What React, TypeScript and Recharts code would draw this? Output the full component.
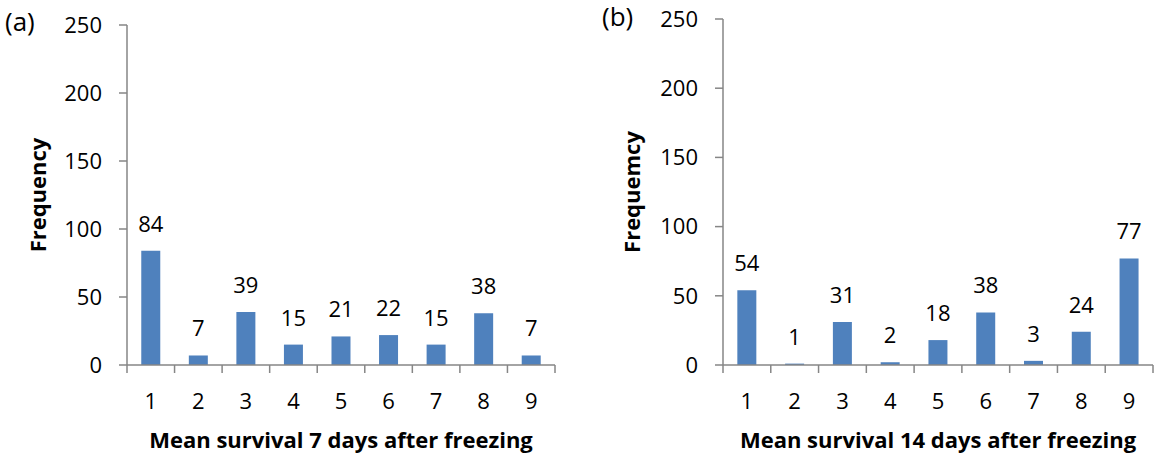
import { Bar, BarChart, Label, LabelList, XAxis, YAxis } from "recharts";

// survival score classes on the x axis
const survivalClasses = ["1", "2", "3", "4", "5", "6", "7", "8", "9"];
// number of plants per class, 7 and 14 days after freezing
const freqDay7 = [84, 7, 39, 15, 21, 22, 15, 38, 7];
const freqDay14 = [54, 1, 31, 2, 18, 38, 3, 24, 77];
const freqTicks = [0, 50, 100, 150, 200, 250];

const FONT = "'Open Sans', 'Noto Sans', sans-serif";
const AXIS = "#868686";
const BAR = "#4F81BD";
const TICK_LEN = 8;
const X_TICK_GAP = 20;

// Excel-style category tick: label in the middle, tick marks on the band edges
function ClassTick(props: any) {
  const { x, y, payload, index, visibleTicksCount } = props;
  const half = payload?.offset ?? 23.8;
  const axisY = y - TICK_LEN - X_TICK_GAP;
  const left = x - half;
  const right = x + half;
  return (
    <g>
      <line x1={left} x2={left} y1={axisY} y2={axisY + TICK_LEN} stroke={AXIS} strokeWidth={1.5} />
      {index === visibleTicksCount - 1 && (
        <line x1={right} x2={right} y1={axisY} y2={axisY + TICK_LEN} stroke={AXIS} strokeWidth={1.5} />
      )}
      <text x={x} y={y} dy="0.71em" textAnchor="middle" fill="#000" fontSize={22}>
        {payload.value}
      </text>
    </g>
  );
}

function Panel({
  values,
  title,
  yTitle,
  yAxisWidth,
  yTitleX,
  top,
  right,
}: {
  values: number[];
  title: string;
  yTitle: string;
  yAxisWidth: number;
  yTitleX: number;
  top: number;
  right: number;
}) {
  const rows = survivalClasses.map((c, i) => ({ cls: c, n: values[i] }));
  return (
    <BarChart
      width={577}
      height={454}
      data={rows}
      margin={{ top, right, bottom: 0, left: 0 }}
      barCategoryGap="30%"
    >
      <XAxis
        dataKey="cls"
        height={89}
        interval={0}
        axisLine={{ stroke: AXIS, strokeWidth: 1.5 }}
        tickLine={false}
        tickSize={TICK_LEN}
        tickMargin={X_TICK_GAP}
        tick={<ClassTick />}
      >
        <Label
          value={title}
          position="insideBottom"
          offset={6}
          style={{ fontSize: 22, fontWeight: 700, fill: "#000" }}
        />
      </XAxis>
      <YAxis
        width={yAxisWidth}
        domain={[0, 250]}
        ticks={freqTicks}
        interval={0}
        axisLine={{ stroke: AXIS, strokeWidth: 1.5 }}
        tickLine={{ stroke: AXIS, strokeWidth: 1.5 }}
        tickSize={TICK_LEN}
        tickMargin={17}
        tick={{ fontSize: 22, fill: "#000" }}
      >
        <Label
          content={({ viewBox }: any) => {
            const cy = viewBox.y + viewBox.height / 2;
            return (
              <text
                x={yTitleX}
                y={cy}
                textAnchor="middle"
                fontSize={22}
                fontWeight={700}
                fill="#000"
                transform={`rotate(-90 ${yTitleX} ${cy})`}
              >
                {yTitle}
              </text>
            );
          }}
        />
      </YAxis>
      <Bar dataKey="n" fill={BAR} isAnimationActive={false}>
        <LabelList dataKey="n" position="top" offset={19} fill="#000" fontSize={22} />
      </Bar>
    </BarChart>
  );
}

export default function App() {
  return (
    <div
      style={{
        position: "absolute",
        left: 0,
        top: 0,
        width: 1154,
        height: 454,
        background: "#fff",
        fontFamily: FONT,
      }}
    >
      <div style={{ position: "absolute", left: 0, top: 0 }}>
        <Panel
          values={freqDay7}
          title="Mean survival 7 days after freezing"
          yTitle="Frequency"
          yAxisWidth={127}
          yTitleX={46}
          top={25}
          right={22}
        />
      </div>
      <div style={{ position: "absolute", left: 577, top: 0 }}>
        <Panel
          values={freqDay14}
          title="Mean survival 14 days after freezing"
          yTitle="Frequemcy"
          yAxisWidth={146}
          yTitleX={63}
          top={19}
          right={1}
        />
      </div>
      <div style={{ position: "absolute", left: 5, top: 6, fontSize: 26, lineHeight: "30px" }}>(a)</div>
      <div style={{ position: "absolute", left: 602, top: 1, fontSize: 26, lineHeight: "30px" }}>(b)</div>
    </div>
  );
}
